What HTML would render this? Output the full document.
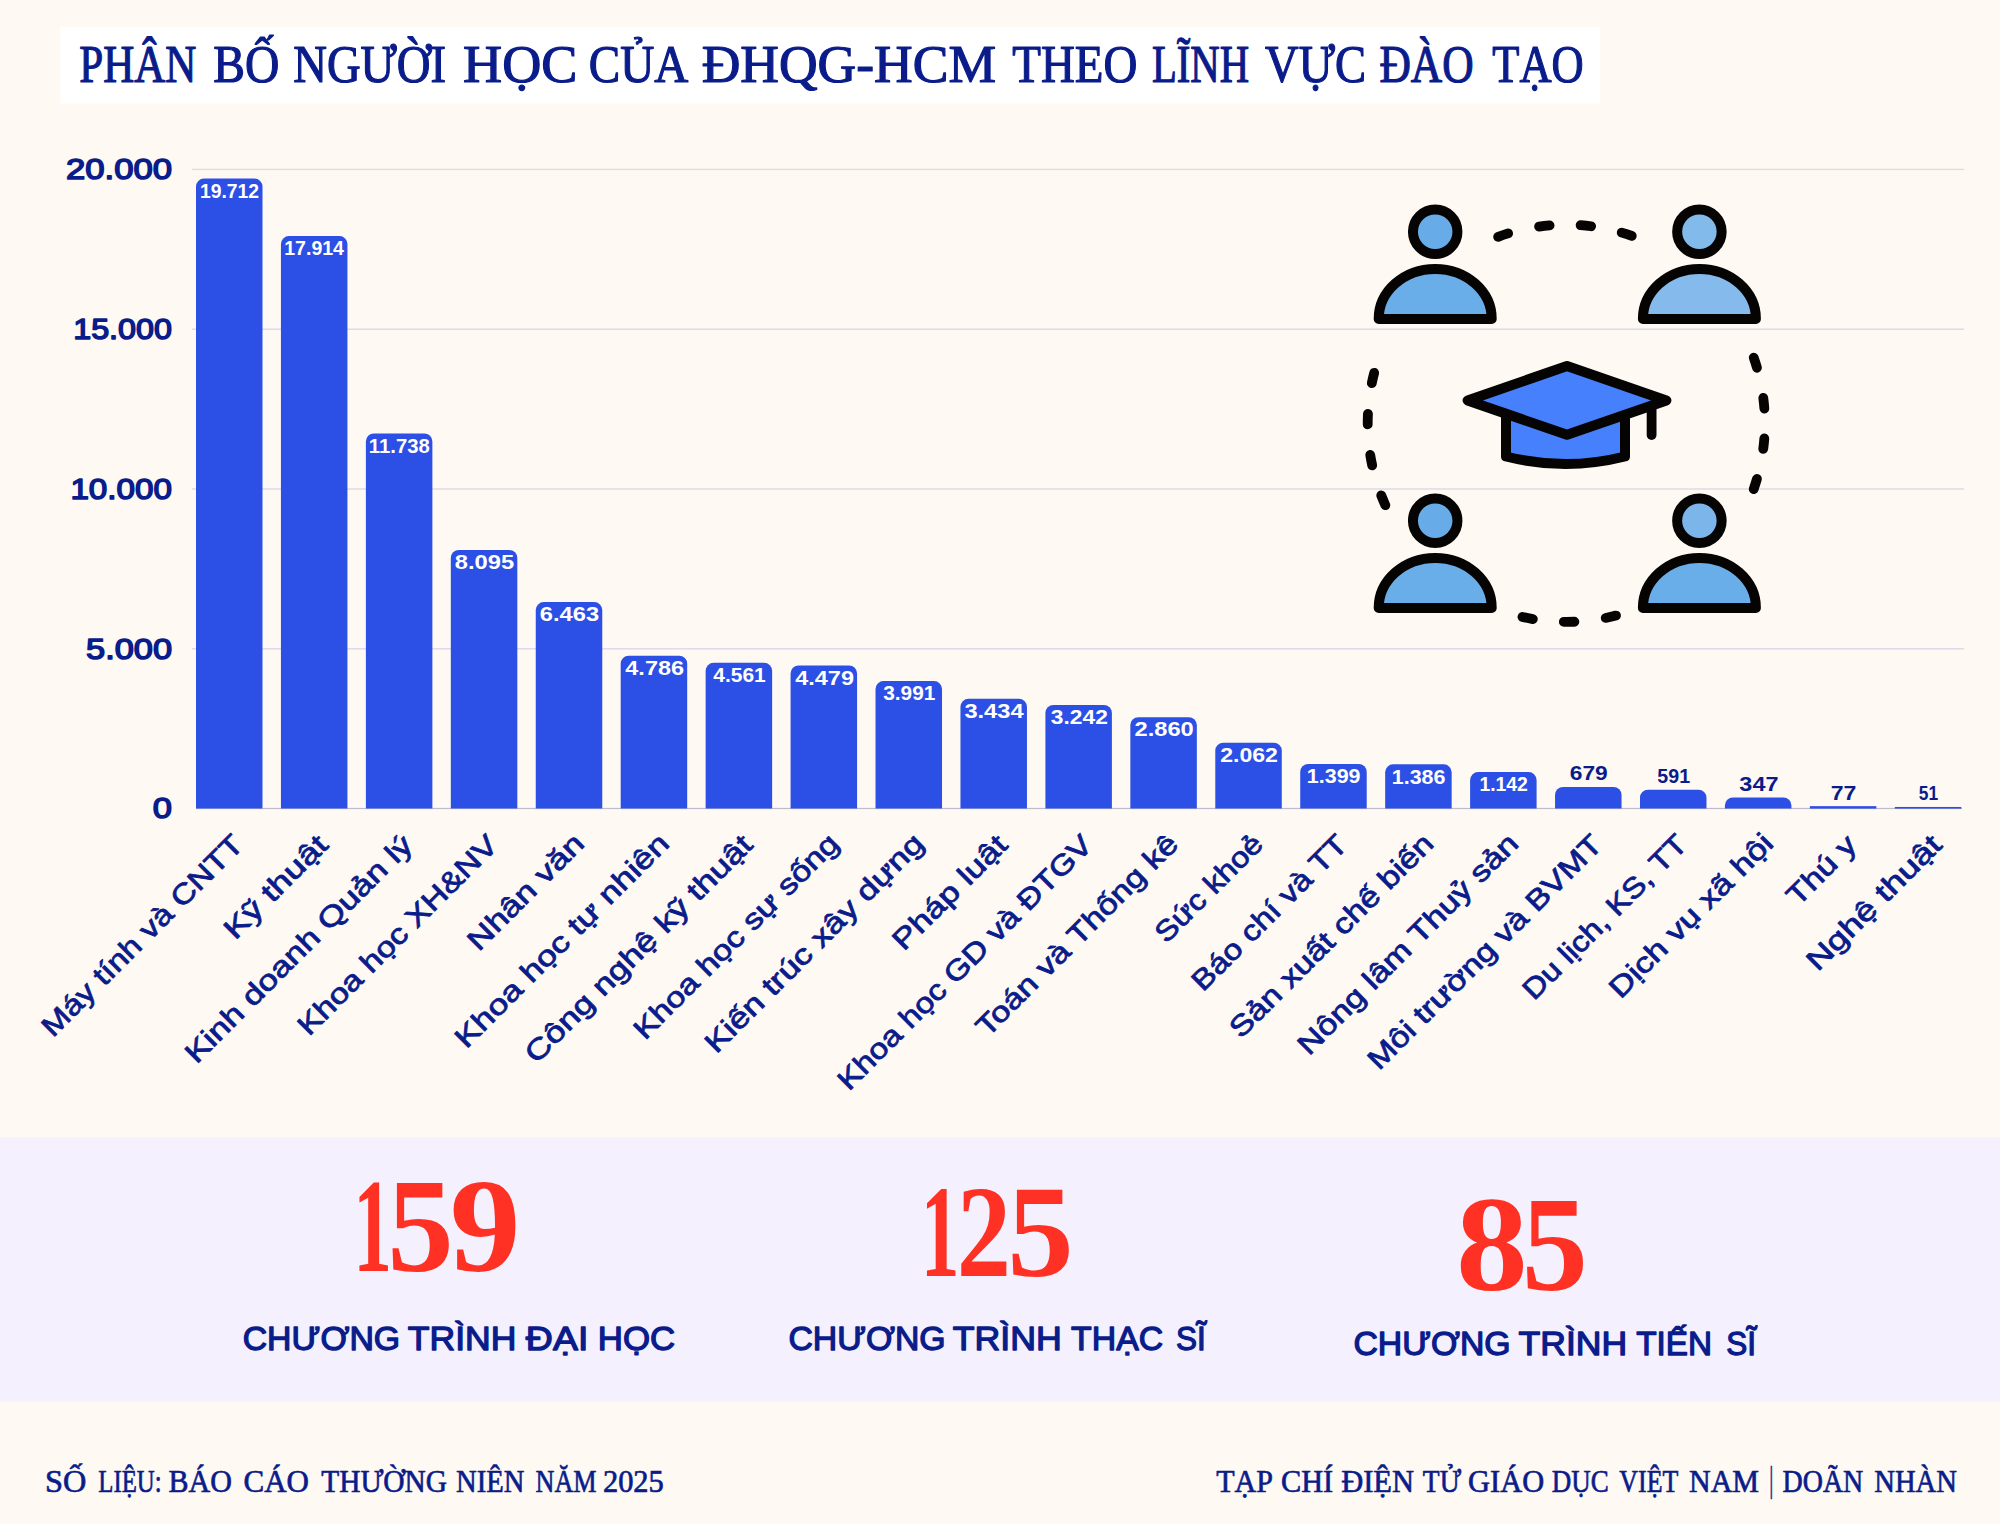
<!DOCTYPE html>
<html lang="vi">
<head>
<meta charset="utf-8">
<title>Phân bố người học của ĐHQG-HCM theo lĩnh vực đào tạo</title>
<style>
html,body{margin:0;padding:0;background:#FEF9F2;}
body{width:2000px;height:1524px;overflow:hidden;}
svg{display:block;}
text{white-space:pre;}
</style>
</head>
<body>
<svg width="2000" height="1524" viewBox="0 0 2000 1524">
<rect x="0" y="0" width="2000" height="1524" fill="#FEF9F2"/>
<rect x="60.5" y="27" width="1539.5" height="76.5" fill="#FFFFFF"/>
<text y="82.00" font-size="52.8" font-family="'Liberation Serif', 'DejaVu Serif', serif" font-weight="400" fill="#0A1C8A" stroke="#0A1C8A" stroke-width="1.2" stroke-linejoin="round"><tspan x="79.36" y="82.00" textLength="117.02" lengthAdjust="spacingAndGlyphs">PHÂN</tspan> <tspan x="213.23" y="82.00" textLength="66.12" lengthAdjust="spacingAndGlyphs">BỐ</tspan> <tspan x="293.26" y="82.00" textLength="152.78" lengthAdjust="spacingAndGlyphs">NGƯỜI</tspan> <tspan x="463.04" y="82.00" textLength="114.35" lengthAdjust="spacingAndGlyphs">HỌC</tspan> <tspan x="588.72" y="82.00" textLength="97.02" lengthAdjust="spacingAndGlyphs">CỦA</tspan> <tspan x="701.72" y="82.00" textLength="294.25" lengthAdjust="spacingAndGlyphs">ĐHQG-HCM</tspan> <tspan x="1012.25" y="82.00" textLength="125.07" lengthAdjust="spacingAndGlyphs">THEO</tspan> <tspan x="1151.93" y="82.00" textLength="97.16" lengthAdjust="spacingAndGlyphs">LĨNH</tspan> <tspan x="1265.08" y="82.00" textLength="100.89" lengthAdjust="spacingAndGlyphs">VỰC</tspan> <tspan x="1379.47" y="82.00" textLength="94.21" lengthAdjust="spacingAndGlyphs">ĐÀO</tspan> <tspan x="1492.30" y="82.00" textLength="91.43" lengthAdjust="spacingAndGlyphs">TẠO</tspan></text>
<rect x="192" y="168.70" width="1772" height="1.4" fill="#E0DDDC"/>
<rect x="192" y="328.50" width="1772" height="1.4" fill="#DCD7EB"/>
<rect x="192" y="488.30" width="1772" height="1.4" fill="#DCD7EB"/>
<rect x="192" y="648.10" width="1772" height="1.4" fill="#DCD7EB"/>
<rect x="196" y="807.90" width="1766" height="1.2" fill="#BDBBCD"/>
<text x="65.91" y="179.15" font-size="29.5" font-family="'Liberation Sans', 'DejaVu Sans', sans-serif" font-weight="400" fill="#0A1C8A" textLength="106.10" lengthAdjust="spacingAndGlyphs" stroke="#0A1C8A" stroke-width="1.5" stroke-linejoin="round">20.000</text>
<text x="73.19" y="338.95" font-size="29.5" font-family="'Liberation Sans', 'DejaVu Sans', sans-serif" font-weight="400" fill="#0A1C8A" textLength="98.72" lengthAdjust="spacingAndGlyphs" stroke="#0A1C8A" stroke-width="1.5" stroke-linejoin="round">15.000</text>
<text x="70.42" y="498.75" font-size="29.5" font-family="'Liberation Sans', 'DejaVu Sans', sans-serif" font-weight="400" fill="#0A1C8A" textLength="101.53" lengthAdjust="spacingAndGlyphs" stroke="#0A1C8A" stroke-width="1.5" stroke-linejoin="round">10.000</text>
<text x="86.08" y="658.55" font-size="29.5" font-family="'Liberation Sans', 'DejaVu Sans', sans-serif" font-weight="400" fill="#0A1C8A" textLength="85.92" lengthAdjust="spacingAndGlyphs" stroke="#0A1C8A" stroke-width="1.5" stroke-linejoin="round">5.000</text>
<text x="152.80" y="818.35" font-size="29.5" font-family="'Liberation Sans', 'DejaVu Sans', sans-serif" font-weight="400" fill="#0A1C8A" textLength="19.20" lengthAdjust="spacingAndGlyphs" stroke="#0A1C8A" stroke-width="1.5" stroke-linejoin="round">0</text>
<path d="M196.00 808.60 L196.00 186.60 A8.0 8.0 0 0 1 204.00 178.60 L254.50 178.60 A8.0 8.0 0 0 1 262.50 186.60 L262.50 808.60 Z" fill="#2C50E5"/>
<text x="199.98" y="197.80" font-size="19.3" font-family="'Liberation Sans', 'DejaVu Sans', sans-serif" font-weight="700" fill="#FFFFFF" textLength="59.09" lengthAdjust="spacingAndGlyphs">19.712</text>
<text transform="translate(244.75 846.50) rotate(-45)" x="-271.22" y="0" font-size="28.5" font-family="'Liberation Sans', 'DejaVu Sans', sans-serif" font-weight="400" fill="#0A1C8A" stroke="#0A1C8A" stroke-width="0.8" stroke-linejoin="round" textLength="271.58" lengthAdjust="spacingAndGlyphs">Máy tính và CNTT</text>
<path d="M280.94 808.60 L280.94 244.07 A8.0 8.0 0 0 1 288.94 236.07 L339.44 236.07 A8.0 8.0 0 0 1 347.44 244.07 L347.44 808.60 Z" fill="#2C50E5"/>
<text x="284.26" y="255.27" font-size="19.3" font-family="'Liberation Sans', 'DejaVu Sans', sans-serif" font-weight="700" fill="#FFFFFF" textLength="59.74" lengthAdjust="spacingAndGlyphs">17.914</text>
<text transform="translate(329.69 846.50) rotate(-45)" x="-133.48" y="0" font-size="28.5" font-family="'Liberation Sans', 'DejaVu Sans', sans-serif" font-weight="400" fill="#0A1C8A" stroke="#0A1C8A" stroke-width="0.8" stroke-linejoin="round" textLength="133.34" lengthAdjust="spacingAndGlyphs">Kỹ thuật</text>
<path d="M365.88 808.60 L365.88 441.45 A8.0 8.0 0 0 1 373.88 433.45 L424.38 433.45 A8.0 8.0 0 0 1 432.38 441.45 L432.38 808.60 Z" fill="#2C50E5"/>
<text x="368.85" y="452.65" font-size="19.3" font-family="'Liberation Sans', 'DejaVu Sans', sans-serif" font-weight="700" fill="#FFFFFF" textLength="60.90" lengthAdjust="spacingAndGlyphs">11.738</text>
<text transform="translate(414.63 846.50) rotate(-45)" x="-308.66" y="0" font-size="28.5" font-family="'Liberation Sans', 'DejaVu Sans', sans-serif" font-weight="400" fill="#0A1C8A" stroke="#0A1C8A" stroke-width="0.8" stroke-linejoin="round" textLength="308.32" lengthAdjust="spacingAndGlyphs">Kinh doanh Quản lý</text>
<path d="M450.82 808.60 L450.82 557.88 A8.0 8.0 0 0 1 458.82 549.88 L509.32 549.88 A8.0 8.0 0 0 1 517.32 557.88 L517.32 808.60 Z" fill="#2C50E5"/>
<text x="454.82" y="569.08" font-size="19.3" font-family="'Liberation Sans', 'DejaVu Sans', sans-serif" font-weight="700" fill="#FFFFFF" textLength="59.41" lengthAdjust="spacingAndGlyphs">8.095</text>
<text transform="translate(499.57 846.50) rotate(-45)" x="-269.58" y="0" font-size="28.5" font-family="'Liberation Sans', 'DejaVu Sans', sans-serif" font-weight="400" fill="#0A1C8A" stroke="#0A1C8A" stroke-width="0.8" stroke-linejoin="round" textLength="269.33" lengthAdjust="spacingAndGlyphs">Khoa học XH&amp;NV</text>
<path d="M535.76 808.60 L535.76 610.04 A8.0 8.0 0 0 1 543.76 602.04 L594.26 602.04 A8.0 8.0 0 0 1 602.26 610.04 L602.26 808.60 Z" fill="#2C50E5"/>
<text x="539.89" y="621.24" font-size="19.3" font-family="'Liberation Sans', 'DejaVu Sans', sans-serif" font-weight="700" fill="#FFFFFF" textLength="59.22" lengthAdjust="spacingAndGlyphs">6.463</text>
<text transform="translate(584.51 846.50) rotate(-45)" x="-149.41" y="0" font-size="28.5" font-family="'Liberation Sans', 'DejaVu Sans', sans-serif" font-weight="400" fill="#0A1C8A" stroke="#0A1C8A" stroke-width="0.8" stroke-linejoin="round" textLength="151.30" lengthAdjust="spacingAndGlyphs">Nhân văn</text>
<path d="M620.70 808.60 L620.70 663.64 A8.0 8.0 0 0 1 628.70 655.64 L679.20 655.64 A8.0 8.0 0 0 1 687.20 663.64 L687.20 808.60 Z" fill="#2C50E5"/>
<text x="625.34" y="674.84" font-size="19.3" font-family="'Liberation Sans', 'DejaVu Sans', sans-serif" font-weight="700" fill="#FFFFFF" textLength="58.70" lengthAdjust="spacingAndGlyphs">4.786</text>
<text transform="translate(669.45 846.50) rotate(-45)" x="-287.21" y="0" font-size="28.5" font-family="'Liberation Sans', 'DejaVu Sans', sans-serif" font-weight="400" fill="#0A1C8A" stroke="#0A1C8A" stroke-width="0.8" stroke-linejoin="round" textLength="289.11" lengthAdjust="spacingAndGlyphs">Khoa học tự nhiên</text>
<path d="M705.64 808.60 L705.64 670.83 A8.0 8.0 0 0 1 713.64 662.83 L764.14 662.83 A8.0 8.0 0 0 1 772.14 670.83 L772.14 808.60 Z" fill="#2C50E5"/>
<text x="713.32" y="682.03" font-size="19.3" font-family="'Liberation Sans', 'DejaVu Sans', sans-serif" font-weight="700" fill="#FFFFFF" textLength="52.40" lengthAdjust="spacingAndGlyphs">4.561</text>
<text transform="translate(754.39 846.50) rotate(-45)" x="-308.66" y="0" font-size="28.5" font-family="'Liberation Sans', 'DejaVu Sans', sans-serif" font-weight="400" fill="#0A1C8A" stroke="#0A1C8A" stroke-width="0.8" stroke-linejoin="round" textLength="308.52" lengthAdjust="spacingAndGlyphs">Công nghệ kỹ thuật</text>
<path d="M790.58 808.60 L790.58 673.45 A8.0 8.0 0 0 1 798.58 665.45 L849.08 665.45 A8.0 8.0 0 0 1 857.08 673.45 L857.08 808.60 Z" fill="#2C50E5"/>
<text x="795.22" y="684.65" font-size="19.3" font-family="'Liberation Sans', 'DejaVu Sans', sans-serif" font-weight="700" fill="#FFFFFF" textLength="58.73" lengthAdjust="spacingAndGlyphs">4.479</text>
<text transform="translate(839.33 846.50) rotate(-45)" x="-274.91" y="0" font-size="28.5" font-family="'Liberation Sans', 'DejaVu Sans', sans-serif" font-weight="400" fill="#0A1C8A" stroke="#0A1C8A" stroke-width="0.8" stroke-linejoin="round" textLength="276.71" lengthAdjust="spacingAndGlyphs">Khoa học sự sống</text>
<path d="M875.52 808.60 L875.52 689.05 A8.0 8.0 0 0 1 883.52 681.05 L934.02 681.05 A8.0 8.0 0 0 1 942.02 689.05 L942.02 808.60 Z" fill="#2C50E5"/>
<text x="883.29" y="700.25" font-size="19.3" font-family="'Liberation Sans', 'DejaVu Sans', sans-serif" font-weight="700" fill="#FFFFFF" textLength="52.06" lengthAdjust="spacingAndGlyphs">3.991</text>
<text transform="translate(924.27 846.50) rotate(-45)" x="-294.02" y="0" font-size="28.5" font-family="'Liberation Sans', 'DejaVu Sans', sans-serif" font-weight="400" fill="#0A1C8A" stroke="#0A1C8A" stroke-width="0.8" stroke-linejoin="round" textLength="295.89" lengthAdjust="spacingAndGlyphs">Kiến trúc xây dựng</text>
<path d="M960.46 808.60 L960.46 706.85 A8.0 8.0 0 0 1 968.46 698.85 L1018.96 698.85 A8.0 8.0 0 0 1 1026.96 706.85 L1026.96 808.60 Z" fill="#2C50E5"/>
<text x="964.42" y="718.05" font-size="19.3" font-family="'Liberation Sans', 'DejaVu Sans', sans-serif" font-weight="700" fill="#FFFFFF" textLength="59.17" lengthAdjust="spacingAndGlyphs">3.434</text>
<text transform="translate(1009.21 846.50) rotate(-45)" x="-148.97" y="0" font-size="28.5" font-family="'Liberation Sans', 'DejaVu Sans', sans-serif" font-weight="400" fill="#0A1C8A" stroke="#0A1C8A" stroke-width="0.8" stroke-linejoin="round" textLength="148.83" lengthAdjust="spacingAndGlyphs">Pháp luật</text>
<path d="M1045.40 808.60 L1045.40 712.99 A8.0 8.0 0 0 1 1053.40 704.99 L1103.90 704.99 A8.0 8.0 0 0 1 1111.90 712.99 L1111.90 808.60 Z" fill="#2C50E5"/>
<text x="1050.88" y="724.19" font-size="19.3" font-family="'Liberation Sans', 'DejaVu Sans', sans-serif" font-weight="700" fill="#FFFFFF" textLength="56.93" lengthAdjust="spacingAndGlyphs">3.242</text>
<text transform="translate(1094.15 846.50) rotate(-45)" x="-346.72" y="0" font-size="28.5" font-family="'Liberation Sans', 'DejaVu Sans', sans-serif" font-weight="400" fill="#0A1C8A" stroke="#0A1C8A" stroke-width="0.8" stroke-linejoin="round" textLength="346.47" lengthAdjust="spacingAndGlyphs">Khoa học GD và ĐTGV</text>
<path d="M1130.34 808.60 L1130.34 725.19 A8.0 8.0 0 0 1 1138.34 717.19 L1188.84 717.19 A8.0 8.0 0 0 1 1196.84 725.19 L1196.84 808.60 Z" fill="#2C50E5"/>
<text x="1134.52" y="736.39" font-size="19.3" font-family="'Liberation Sans', 'DejaVu Sans', sans-serif" font-weight="700" fill="#FFFFFF" textLength="59.29" lengthAdjust="spacingAndGlyphs">2.860</text>
<text transform="translate(1179.09 846.50) rotate(-45)" x="-271.14" y="0" font-size="28.5" font-family="'Liberation Sans', 'DejaVu Sans', sans-serif" font-weight="400" fill="#0A1C8A" stroke="#0A1C8A" stroke-width="0.8" stroke-linejoin="round" textLength="272.26" lengthAdjust="spacingAndGlyphs">Toán và Thống kê</text>
<path d="M1215.28 808.60 L1215.28 750.70 A8.0 8.0 0 0 1 1223.28 742.70 L1273.78 742.70 A8.0 8.0 0 0 1 1281.78 750.70 L1281.78 808.60 Z" fill="#2C50E5"/>
<text x="1220.23" y="761.90" font-size="19.3" font-family="'Liberation Sans', 'DejaVu Sans', sans-serif" font-weight="700" fill="#FFFFFF" textLength="57.72" lengthAdjust="spacingAndGlyphs">2.062</text>
<text transform="translate(1264.03 846.50) rotate(-45)" x="-138.11" y="0" font-size="28.5" font-family="'Liberation Sans', 'DejaVu Sans', sans-serif" font-weight="400" fill="#0A1C8A" stroke="#0A1C8A" stroke-width="0.8" stroke-linejoin="round" textLength="139.15" lengthAdjust="spacingAndGlyphs">Sức khoẻ</text>
<path d="M1300.22 808.60 L1300.22 771.89 A8.0 8.0 0 0 1 1308.22 763.89 L1358.72 763.89 A8.0 8.0 0 0 1 1366.72 771.89 L1366.72 808.60 Z" fill="#2C50E5"/>
<text x="1306.87" y="783.09" font-size="19.3" font-family="'Liberation Sans', 'DejaVu Sans', sans-serif" font-weight="700" fill="#FFFFFF" textLength="53.65" lengthAdjust="spacingAndGlyphs">1.399</text>
<text transform="translate(1348.97 846.50) rotate(-45)" x="-206.46" y="0" font-size="28.5" font-family="'Liberation Sans', 'DejaVu Sans', sans-serif" font-weight="400" fill="#0A1C8A" stroke="#0A1C8A" stroke-width="0.8" stroke-linejoin="round" textLength="206.82" lengthAdjust="spacingAndGlyphs">Báo chí và TT</text>
<path d="M1385.16 808.60 L1385.16 772.30 A8.0 8.0 0 0 1 1393.16 764.30 L1443.66 764.30 A8.0 8.0 0 0 1 1451.66 772.30 L1451.66 808.60 Z" fill="#2C50E5"/>
<text x="1391.81" y="783.50" font-size="19.3" font-family="'Liberation Sans', 'DejaVu Sans', sans-serif" font-weight="700" fill="#FFFFFF" textLength="53.62" lengthAdjust="spacingAndGlyphs">1.386</text>
<text transform="translate(1433.91 846.50) rotate(-45)" x="-273.08" y="0" font-size="28.5" font-family="'Liberation Sans', 'DejaVu Sans', sans-serif" font-weight="400" fill="#0A1C8A" stroke="#0A1C8A" stroke-width="0.8" stroke-linejoin="round" textLength="274.91" lengthAdjust="spacingAndGlyphs">Sản xuất chế biến</text>
<path d="M1470.10 808.60 L1470.10 780.10 A8.0 8.0 0 0 1 1478.10 772.10 L1528.60 772.10 A8.0 8.0 0 0 1 1536.60 780.10 L1536.60 808.60 Z" fill="#2C50E5"/>
<text x="1479.38" y="791.30" font-size="19.3" font-family="'Liberation Sans', 'DejaVu Sans', sans-serif" font-weight="700" fill="#FFFFFF" textLength="48.50" lengthAdjust="spacingAndGlyphs">1.142</text>
<text transform="translate(1518.85 846.50) rotate(-45)" x="-296.90" y="0" font-size="28.5" font-family="'Liberation Sans', 'DejaVu Sans', sans-serif" font-weight="400" fill="#0A1C8A" stroke="#0A1C8A" stroke-width="0.8" stroke-linejoin="round" textLength="298.74" lengthAdjust="spacingAndGlyphs">Nông lâm Thuỷ sản</text>
<path d="M1555.04 808.60 L1555.04 794.90 A8.0 8.0 0 0 1 1563.04 786.90 L1613.54 786.90 A8.0 8.0 0 0 1 1621.54 794.90 L1621.54 808.60 Z" fill="#2C50E5"/>
<text x="1569.81" y="780.40" font-size="19.3" font-family="'Liberation Sans', 'DejaVu Sans', sans-serif" font-weight="700" fill="#0A1C8A" textLength="37.98" lengthAdjust="spacingAndGlyphs">679</text>
<text transform="translate(1603.79 846.50) rotate(-45)" x="-318.00" y="0" font-size="28.5" font-family="'Liberation Sans', 'DejaVu Sans', sans-serif" font-weight="400" fill="#0A1C8A" stroke="#0A1C8A" stroke-width="0.8" stroke-linejoin="round" textLength="318.38" lengthAdjust="spacingAndGlyphs">Môi trường và BVMT</text>
<path d="M1639.98 808.60 L1639.98 797.71 A8.0 8.0 0 0 1 1647.98 789.71 L1698.48 789.71 A8.0 8.0 0 0 1 1706.48 797.71 L1706.48 808.60 Z" fill="#2C50E5"/>
<text x="1657.33" y="783.21" font-size="19.3" font-family="'Liberation Sans', 'DejaVu Sans', sans-serif" font-weight="700" fill="#0A1C8A" textLength="32.75" lengthAdjust="spacingAndGlyphs">591</text>
<text transform="translate(1688.73 846.50) rotate(-45)" x="-218.80" y="0" font-size="28.5" font-family="'Liberation Sans', 'DejaVu Sans', sans-serif" font-weight="400" fill="#0A1C8A" stroke="#0A1C8A" stroke-width="0.8" stroke-linejoin="round" textLength="219.15" lengthAdjust="spacingAndGlyphs">Du lịch, KS, TT</text>
<path d="M1724.92 808.60 L1724.92 805.51 A8.0 8.0 0 0 1 1732.92 797.51 L1783.42 797.51 A8.0 8.0 0 0 1 1791.42 805.51 L1791.42 808.60 Z" fill="#2C50E5"/>
<text x="1739.38" y="791.01" font-size="19.3" font-family="'Liberation Sans', 'DejaVu Sans', sans-serif" font-weight="700" fill="#0A1C8A" textLength="39.07" lengthAdjust="spacingAndGlyphs">347</text>
<text transform="translate(1773.67 846.50) rotate(-45)" x="-216.76" y="0" font-size="28.5" font-family="'Liberation Sans', 'DejaVu Sans', sans-serif" font-weight="400" fill="#0A1C8A" stroke="#0A1C8A" stroke-width="0.8" stroke-linejoin="round" textLength="218.71" lengthAdjust="spacingAndGlyphs">Dịch vụ xã hội</text>
<rect x="1809.86" y="806.14" width="66.5" height="2.46" fill="#2C50E5"/>
<text x="1830.77" y="799.64" font-size="19.3" font-family="'Liberation Sans', 'DejaVu Sans', sans-serif" font-weight="700" fill="#0A1C8A" textLength="25.71" lengthAdjust="spacingAndGlyphs">77</text>
<text transform="translate(1858.61 846.50) rotate(-45)" x="-85.90" y="0" font-size="28.5" font-family="'Liberation Sans', 'DejaVu Sans', sans-serif" font-weight="400" fill="#0A1C8A" stroke="#0A1C8A" stroke-width="0.8" stroke-linejoin="round" textLength="85.56" lengthAdjust="spacingAndGlyphs">Thú y</text>
<rect x="1894.80" y="806.97" width="66.5" height="1.63" fill="#2C50E5"/>
<text x="1918.87" y="800.47" font-size="19.3" font-family="'Liberation Sans', 'DejaVu Sans', sans-serif" font-weight="700" fill="#0A1C8A" textLength="19.32" lengthAdjust="spacingAndGlyphs">51</text>
<text transform="translate(1943.55 846.50) rotate(-45)" x="-177.83" y="0" font-size="28.5" font-family="'Liberation Sans', 'DejaVu Sans', sans-serif" font-weight="400" fill="#0A1C8A" stroke="#0A1C8A" stroke-width="0.8" stroke-linejoin="round" textLength="177.69" lengthAdjust="spacingAndGlyphs">Nghệ thuật</text>
<path d="M1378.70 318.90 A56.5 50 0 0 1 1491.70 318.90 Z" fill="#69ADE9" stroke="#060303" stroke-width="10" stroke-linejoin="round"/>
<circle cx="1435.20" cy="231.80" r="22.25" fill="#67ABE8" stroke="#060303" stroke-width="10"/>
<path d="M1642.90 318.90 A56.5 50 0 0 1 1755.90 318.90 Z" fill="#85BBEC" stroke="#060303" stroke-width="10" stroke-linejoin="round"/>
<circle cx="1699.40" cy="231.80" r="22.25" fill="#83BAEC" stroke="#060303" stroke-width="10"/>
<path d="M1378.70 607.90 A56.5 50 0 0 1 1491.70 607.90 Z" fill="#69ADE9" stroke="#060303" stroke-width="10" stroke-linejoin="round"/>
<circle cx="1435.20" cy="520.80" r="22.25" fill="#67ABE8" stroke="#060303" stroke-width="10"/>
<path d="M1642.90 607.90 A56.5 50 0 0 1 1755.90 607.90 Z" fill="#69ADE9" stroke="#060303" stroke-width="10" stroke-linejoin="round"/>
<circle cx="1699.40" cy="520.80" r="22.25" fill="#7CB5EA" stroke="#060303" stroke-width="10"/>
<path d="M1498.10 236.78 A198.6 198.6 0 0 1 1508.15 233.40" fill="none" stroke="#060303" stroke-width="9.8" stroke-linecap="round"/>
<path d="M1539.08 226.57 A198.6 198.6 0 0 1 1549.61 225.40" fill="none" stroke="#060303" stroke-width="9.8" stroke-linecap="round"/>
<path d="M1580.60 225.22 A198.6 198.6 0 0 1 1591.15 226.26" fill="none" stroke="#060303" stroke-width="9.8" stroke-linecap="round"/>
<path d="M1621.70 232.58 A198.6 198.6 0 0 1 1631.79 235.81" fill="none" stroke="#060303" stroke-width="9.8" stroke-linecap="round"/>
<path d="M1753.73 357.63 A198.6 198.6 0 0 1 1756.96 367.72" fill="none" stroke="#060303" stroke-width="9.8" stroke-linecap="round"/>
<path d="M1763.28 397.97 A198.6 198.6 0 0 1 1764.35 408.51" fill="none" stroke="#060303" stroke-width="9.8" stroke-linecap="round"/>
<path d="M1764.33 438.38 A198.6 198.6 0 0 1 1763.24 448.93" fill="none" stroke="#060303" stroke-width="9.8" stroke-linecap="round"/>
<path d="M1756.94 478.95 A198.6 198.6 0 0 1 1753.70 489.04" fill="none" stroke="#060303" stroke-width="9.8" stroke-linecap="round"/>
<path d="M1371.80 383.17 A198.6 198.6 0 0 1 1374.22 372.85" fill="none" stroke="#060303" stroke-width="9.8" stroke-linecap="round"/>
<path d="M1367.70 424.40 A198.6 198.6 0 0 1 1367.93 413.80" fill="none" stroke="#060303" stroke-width="9.8" stroke-linecap="round"/>
<path d="M1372.20 465.35 A198.6 198.6 0 0 1 1370.24 454.93" fill="none" stroke="#060303" stroke-width="9.8" stroke-linecap="round"/>
<path d="M1385.36 505.17 A198.6 198.6 0 0 1 1381.25 495.40" fill="none" stroke="#060303" stroke-width="9.8" stroke-linecap="round"/>
<path d="M1532.83 619.06 A198.6 198.6 0 0 1 1522.44 617.00" fill="none" stroke="#060303" stroke-width="9.8" stroke-linecap="round"/>
<path d="M1574.41 621.73 A198.6 198.6 0 0 1 1563.82 621.88" fill="none" stroke="#060303" stroke-width="9.8" stroke-linecap="round"/>
<path d="M1616.02 615.57 A198.6 198.6 0 0 1 1605.70 617.95" fill="none" stroke="#060303" stroke-width="9.8" stroke-linecap="round"/>
<path d="M1506 408 L1506 456.5 Q1565.5 471.5 1625 456.5 L1625 408 Z" fill="#4680FC" stroke="#060303" stroke-width="10" stroke-linejoin="round"/>
<path d="M1651.6 404 L1651.6 435" fill="none" stroke="#060303" stroke-width="9.8" stroke-linecap="round"/>
<path d="M1467.6 400.4 L1567 366 L1666.4 400.4 L1567 434.8 Z" fill="#4680FC" stroke="#060303" stroke-width="10" stroke-linejoin="round"/>
<rect x="0" y="1137.5" width="2000" height="264" fill="#F4F0FE"/>
<text y="1271.20" font-size="132.5" font-family="'Liberation Serif', 'DejaVu Serif', serif" font-weight="700" fill="#FE3124"><tspan x="353.30" y="1271.20" textLength="38.71" lengthAdjust="spacingAndGlyphs">1</tspan><tspan x="387.18" y="1271.20" textLength="66.44" lengthAdjust="spacingAndGlyphs">5</tspan><tspan x="449.88" y="1271.20" textLength="70.73" lengthAdjust="spacingAndGlyphs">9</tspan></text>
<text y="1275.60" font-size="130.5" font-family="'Liberation Serif', 'DejaVu Serif', serif" font-weight="700" fill="#FE3124"><tspan x="920.80" y="1275.60" textLength="38.71" lengthAdjust="spacingAndGlyphs">1</tspan><tspan x="956.70" y="1275.60" textLength="54.21" lengthAdjust="spacingAndGlyphs">2</tspan><tspan x="1007.18" y="1275.60" textLength="66.44" lengthAdjust="spacingAndGlyphs">5</tspan></text>
<text y="1290.00" font-size="134.5" font-family="'Liberation Serif', 'DejaVu Serif', serif" font-weight="700" fill="#FE3124"><tspan x="1455.98" y="1290.00" textLength="71.78" lengthAdjust="spacingAndGlyphs">8</tspan><tspan x="1521.70" y="1290.00" textLength="66.14" lengthAdjust="spacingAndGlyphs">5</tspan></text>
<text y="1349.50" font-size="33.2" font-family="'Liberation Sans', 'DejaVu Sans', sans-serif" font-weight="400" fill="#0A1C8A" stroke="#0A1C8A" stroke-width="1.3" stroke-linejoin="round"><tspan x="242.68" y="1349.50" textLength="157.44" lengthAdjust="spacingAndGlyphs">CHƯƠNG</tspan> <tspan x="407.85" y="1349.50" textLength="108.65" lengthAdjust="spacingAndGlyphs">TRÌNH</tspan> <tspan x="525.89" y="1349.50" textLength="62.41" lengthAdjust="spacingAndGlyphs">ĐẠI</tspan> <tspan x="597.79" y="1349.50" textLength="77.38" lengthAdjust="spacingAndGlyphs">HỌC</tspan></text>
<text y="1349.50" font-size="33.2" font-family="'Liberation Sans', 'DejaVu Sans', sans-serif" font-weight="400" fill="#0A1C8A" stroke="#0A1C8A" stroke-width="1.3" stroke-linejoin="round"><tspan x="788.44" y="1349.50" textLength="157.19" lengthAdjust="spacingAndGlyphs">CHƯƠNG</tspan> <tspan x="952.85" y="1349.50" textLength="108.91" lengthAdjust="spacingAndGlyphs">TRÌNH</tspan> <tspan x="1071.14" y="1349.50" textLength="92.00" lengthAdjust="spacingAndGlyphs">THẠC</tspan> <tspan x="1176.02" y="1349.50" textLength="29.73" lengthAdjust="spacingAndGlyphs">SĨ</tspan></text>
<text y="1354.50" font-size="33.2" font-family="'Liberation Sans', 'DejaVu Sans', sans-serif" font-weight="400" fill="#0A1C8A" stroke="#0A1C8A" stroke-width="1.3" stroke-linejoin="round"><tspan x="1353.44" y="1354.50" textLength="157.19" lengthAdjust="spacingAndGlyphs">CHƯƠNG</tspan> <tspan x="1518.60" y="1354.50" textLength="108.65" lengthAdjust="spacingAndGlyphs">TRÌNH</tspan> <tspan x="1636.15" y="1354.50" textLength="75.92" lengthAdjust="spacingAndGlyphs">TIẾN</tspan> <tspan x="1726.22" y="1354.50" textLength="29.73" lengthAdjust="spacingAndGlyphs">SĨ</tspan></text>
<text y="1492.00" font-size="32.2" font-family="'Liberation Serif', 'DejaVu Serif', serif" font-weight="400" fill="#0A1C8A" stroke="#0A1C8A" stroke-width="0.7" stroke-linejoin="round"><tspan x="44.94" y="1492.00" textLength="41.34" lengthAdjust="spacingAndGlyphs">SỐ</tspan> <tspan x="98.34" y="1492.00" textLength="63.32" lengthAdjust="spacingAndGlyphs">LIỆU:</tspan> <tspan x="168.48" y="1492.00" textLength="63.40" lengthAdjust="spacingAndGlyphs">BÁO</tspan> <tspan x="243.48" y="1492.00" textLength="65.44" lengthAdjust="spacingAndGlyphs">CÁO</tspan> <tspan x="321.32" y="1492.00" textLength="125.65" lengthAdjust="spacingAndGlyphs">THƯỜNG</tspan> <tspan x="456.03" y="1492.00" textLength="68.28" lengthAdjust="spacingAndGlyphs">NIÊN</tspan> <tspan x="535.50" y="1492.00" textLength="61.12" lengthAdjust="spacingAndGlyphs">NĂM</tspan> <tspan x="602.91" y="1492.00" textLength="60.93" lengthAdjust="spacingAndGlyphs">2025</tspan></text>
<text y="1492.00" font-size="32.2" font-family="'Liberation Serif', 'DejaVu Serif', serif" font-weight="400" fill="#0A1C8A" stroke="#0A1C8A" stroke-width="0.7" stroke-linejoin="round"><tspan x="1216.22" y="1492.00" textLength="55.61" lengthAdjust="spacingAndGlyphs">TẠP</tspan> <tspan x="1281.01" y="1492.00" textLength="52.19" lengthAdjust="spacingAndGlyphs">CHÍ</tspan> <tspan x="1341.16" y="1492.00" textLength="72.89" lengthAdjust="spacingAndGlyphs">ĐIỆN</tspan> <tspan x="1422.85" y="1492.00" textLength="38.15" lengthAdjust="spacingAndGlyphs">TỬ</tspan> <tspan x="1468.10" y="1492.00" textLength="75.99" lengthAdjust="spacingAndGlyphs">GIÁO</tspan> <tspan x="1551.77" y="1492.00" textLength="56.97" lengthAdjust="spacingAndGlyphs">DỤC</tspan> <tspan x="1619.36" y="1492.00" textLength="58.52" lengthAdjust="spacingAndGlyphs">VIỆT</tspan> <tspan x="1688.99" y="1492.00" textLength="70.04" lengthAdjust="spacingAndGlyphs">NAM</tspan> <tspan x="1769.59" y="1490.90" font-size="35.6" textLength="3.62" lengthAdjust="spacingAndGlyphs">|</tspan> <tspan x="1782.54" y="1492.00" textLength="80.75" lengthAdjust="spacingAndGlyphs">DOÃN</tspan> <tspan x="1874.23" y="1492.00" textLength="82.68" lengthAdjust="spacingAndGlyphs">NHÀN</tspan></text>
</svg>
</body>
</html>
